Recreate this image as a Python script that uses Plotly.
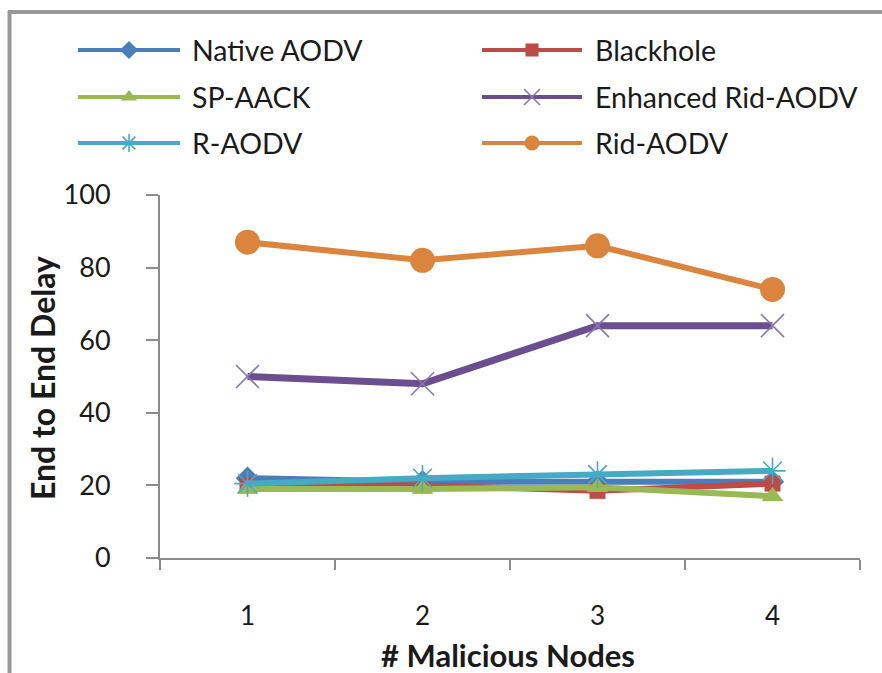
import plotly.graph_objects as go

# Number of malicious nodes (x categories)
nodes = ["1", "2", "3", "4"]

# End-to-end delay per protocol
native_aodv = [22, 21, 21, 21]
blackhole = [20, 20, 18.5, 20.5]
sp_aack = [19, 19, 19.5, 17]
enhanced_rid_aodv = [50, 48, 64, 64]
r_aodv = [20.5, 22, 23, 24]
rid_aodv = [87, 82, 86, 74]

y_ticks = [0, 20, 40, 60, 80, 100]

W, H = 882, 673
FONT = "Lato, 'Open Sans', 'Noto Sans', sans-serif"
TEXT = "#1a1a1a"
AXIS = "#8c8c8c"

# plot area in pixels
PL, PR, PT, PB = 160, 860, 195, 558

series = [
    dict(name="Native AODV", y=native_aodv, color="#4A7EBB",
         marker=dict(symbol="diamond", size=18), lw=6, lg_size=14),
    dict(name="Blackhole", y=blackhole, color="#BE4B48",
         marker=dict(symbol="square", size=16), lw=6, lg_size=13),
    dict(name="SP-AACK", y=sp_aack, color="#98B954",
         marker=dict(symbol="triangle-up", size=19), lw=6, lg_size=14),
    dict(name="Enhanced Rid-AODV", y=enhanced_rid_aodv, color="#6A4E8F",
         marker=dict(symbol="x-thin-open", size=23,
                     line=dict(width=1.6, color="#8B78B3")), lw=7, lg_size=16),
    dict(name="R-AODV", y=r_aodv, color="#46AAC5",
         marker=dict(symbol="asterisk-open", size=22,
                     line=dict(width=1.6, color="#46AAC5")), lw=6, lg_size=15),
    dict(name="Rid-AODV", y=rid_aodv, color="#DB843D",
         marker=dict(symbol="circle", size=25), lw=6, lg_size=15),
]

fig = go.Figure()

for s in series:
    m = dict(s["marker"])
    m["color"] = s["color"] if "line" not in m else m["line"]["color"]
    fig.add_trace(go.Scatter(
        x=nodes, y=s["y"], name=s["name"], mode="lines+markers",
        line=dict(color=s["color"], width=s["lw"]),
        marker=m, showlegend=False, xaxis="x", yaxis="y",
    ))

# Legend drawn on a pixel-space overlay axis: two columns, three rows
row_y = [50, 97, 143]
col_line = [(78, 180), (482, 582)]
col_text = [190, 593]
for i, s in enumerate(series):
    r, c = divmod(i, 2)
    x0, x1 = col_line[c]
    y = row_y[r]
    fig.add_trace(go.Scatter(
        x=[x0, x1], y=[y, y], mode="lines",
        line=dict(color=s["color"], width=4),
        showlegend=False, hoverinfo="skip", xaxis="x2", yaxis="y2",
    ))
    m = dict(s["marker"])
    m["size"] = s["lg_size"]
    m["color"] = s["color"] if "line" not in m else m["line"]["color"]
    fig.add_trace(go.Scatter(
        x=[(x0 + x1) / 2], y=[y], mode="markers", marker=m,
        showlegend=False, hoverinfo="skip", xaxis="x2", yaxis="y2",
    ))
    fig.add_annotation(
        x=col_text[c], y=y, xref="x2", yref="y2", text=s["name"],
        showarrow=False, xanchor="left", yanchor="middle",
        font=dict(family=FONT, size=28.5, color=TEXT),
    )

# Axis titles
fig.add_annotation(
    x=42, y=378, xref="x2", yref="y2", text="<b>End to End Delay</b>",
    textangle=-90, showarrow=False, xanchor="center", yanchor="middle",
    font=dict(family=FONT, size=32, color=TEXT),
)
fig.add_annotation(
    x=508, y=655, xref="x2", yref="y2", text="<b># Malicious Nodes</b>",
    showarrow=False, xanchor="center", yanchor="middle",
    font=dict(family=FONT, size=31, color=TEXT),
)

# Outer frame (left and top edges)
fig.add_shape(type="line", xref="paper", yref="paper",
              x0=9.5 / W, x1=9.5 / W, y0=0, y1=1 - 11 / H,
              line=dict(color="#999999", width=4))
fig.add_shape(type="line", xref="paper", yref="paper",
              x0=8 / W, x1=1, y0=1 - 12 / H, y1=1 - 12 / H,
              line=dict(color="#999999", width=4))

fig.update_layout(
    width=W, height=H,
    margin=dict(l=0, r=0, t=0, b=0),
    paper_bgcolor="white",
    plot_bgcolor="rgba(0,0,0,0)",
    showlegend=False,
    font=dict(family=FONT, color=TEXT),
    xaxis=dict(
        type="category", domain=[PL / W, PR / W], anchor="y",
        range=[-0.5, 3.5], tickson="boundaries",
        ticks="outside", ticklen=10, tickwidth=2, tickcolor=AXIS,
        showline=True, linecolor=AXIS, linewidth=2,
        showgrid=False, zeroline=False, automargin=False,
        ticklabelstandoff=34,
        tickfont=dict(family=FONT, size=26, color=TEXT),
    ),
    yaxis=dict(
        domain=[1 - PB / H, 1 - PT / H], anchor="x",
        range=[0, 100], tickvals=y_ticks,
        ticks="outside", ticklen=12, tickwidth=2, tickcolor=AXIS,
        showline=True, linecolor=AXIS, linewidth=2,
        showgrid=False, zeroline=False, automargin=False,
        ticklabelstandoff=30,
        tickfont=dict(family=FONT, size=27, color=TEXT),
    ),
    xaxis2=dict(domain=[0, 1], range=[0, W], visible=False, anchor="y2",
                fixedrange=True),
    yaxis2=dict(domain=[0, 1], range=[H, 0], visible=False, anchor="x2",
                fixedrange=True),
)

fig.write_html("out.html")
